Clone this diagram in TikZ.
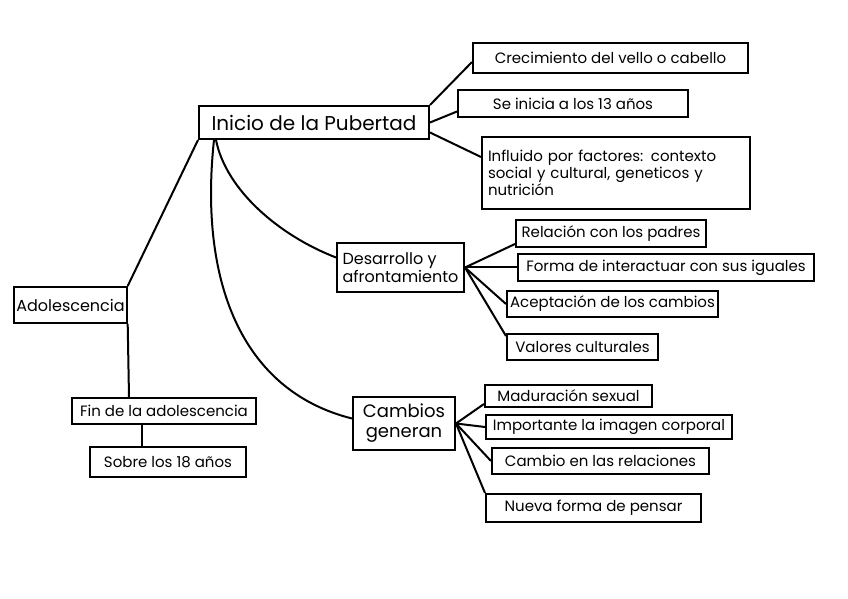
\documentclass[tikz,border=0pt]{standalone}
\usepackage{fontspec}
\setmainfont{Poppins}
\usepackage{tikz}
\usetikzlibrary{calc}

\tikzset{
  concept/.style={draw, line width=1pt, inner sep=1pt, font=\fontsize{7.5}{8.5}\selectfont},
  branch/.style={line width=1pt}
}

\begin{document}
\begin{tikzpicture}[x=0.5pt, y=-0.5pt]
            \useasboundingbox (0,0) rectangle (848,599);

            % Main concepts
            \node[concept, minimum width=115pt, minimum height=16.5pt, font=\fontsize{10}{12}\selectfont] (inicio) at (314,122.5) {Inicio de la Pubertad};
            \node[concept, minimum width=54.5pt, minimum height=18pt, font=\fontsize{8}{10}\selectfont] (adol) at (70.5,305) {Adolescencia};
            \node[concept, minimum width=63.5pt, minimum height=24.5pt, align=left, font=\fontsize{8}{9}\selectfont] (desarrollo) at (400.5,267.5) {Desarrollo y\\afrontamiento};
            \node[concept, minimum width=51pt, minimum height=26.5pt, align=center, font=\fontsize{9}{10}\selectfont] (cambios) at (404,423.5) {Cambios\\generan};
            \node[concept, minimum width=92pt, minimum height=13pt] (fin) at (164,411) {Fin de la adolescencia};
            \node[concept, minimum width=78pt, minimum height=15pt] (sobre) at (168,462) {Sobre los 18 años};

            % Pubertad
            \node[concept, minimum width=137.5pt, minimum height=15pt] (crec) at (610.5,58) {Crecimiento del vello o cabello};
            \node[concept, minimum width=115pt, minimum height=13.5pt] (seinicia) at (573,103.5) {Se inicia a los 13 años};
            \node[concept, minimum width=134pt, minimum height=36pt, text width=128pt, align=left] (influido) at (616,173) {Influido por factores: contexto\\social y cultural, geneticos y\\nutrición};

            % Desarrollo
            \node[concept, minimum width=95pt, minimum height=13.5pt] (relacion) at (611,233.5) {Relación con los padres};
            \node[concept, minimum width=148pt, minimum height=13.5pt] (forma) at (666,267.5) {Forma de interactuar con sus iguales};
            \node[concept, minimum width=105.5pt, minimum height=13pt] (acept) at (612.5,304) {Aceptación de los cambios};
            \node[concept, minimum width=75.5pt, minimum height=13pt] (valores) at (582.5,347) {Valores culturales};

            % Cambios
            \node[concept, minimum width=83.5pt, minimum height=11pt] (madur) at (568.5,396) {Maduración sexual};
            \node[concept, minimum width=123pt, minimum height=12pt] (import) at (609,427) {Importante la imagen corporal};
            \node[concept, minimum width=108.5pt, minimum height=13pt] (cambioen) at (600.5,461) {Cambio en las relaciones};
            \node[concept, minimum width=107.5pt, minimum height=14pt] (nueva) at (593.5,508) {Nueva forma de pensar};

            % Inicio branches
            \draw[branch] (inicio.south west) -- (adol.north east);
            \draw[branch] (inicio.north east) -- ($(crec.west)+(0,4)$);
            \draw[branch] (inicio.east) -- ($(seinicia.west)+(0,8)$);
            \draw[branch] ($(inicio.east)+(0,10)$) -- ($(influido.west)+(0,-16)$);
            \draw[branch] ($(inicio.south west)+(18,0)$) .. controls +(10,50) and +(-57,-22) .. ($(desarrollo.west)+(0,-10)$);
            \draw[branch] ($(inicio.south west)+(16,0)$) .. controls +(-15,139) and +(-112,-28) .. ($(cambios.west)+(0,-5)$);

            % Fin
            \draw[branch] (adol.south east) -- ($(fin.north west)+(58,0)$);
            \draw[branch] ($(fin.south west)+(71,0)$) -- ($(sobre.north west)+(53,0)$);

            % Desarrollo branches
            \draw[branch] (desarrollo.east) -- ($(relacion.south west)+(0,-4)$);
            \draw[branch] (desarrollo.east) -- (forma.west);
            \draw[branch] (desarrollo.east) -- (acept.west);
            \draw[branch] (desarrollo.east) -- ($(valores.north west)+(0,3)$);

            % Cambios branches
            \draw[branch] (cambios.east) -- ($(madur.south west)+(0,-4)$);
            \draw[branch] (cambios.east) -- (import.west);
            \draw[branch] (cambios.east) -- (cambioen.west);
            \draw[branch] (cambios.east) -- (nueva.north west);
        \end{tikzpicture}
\end{document}
